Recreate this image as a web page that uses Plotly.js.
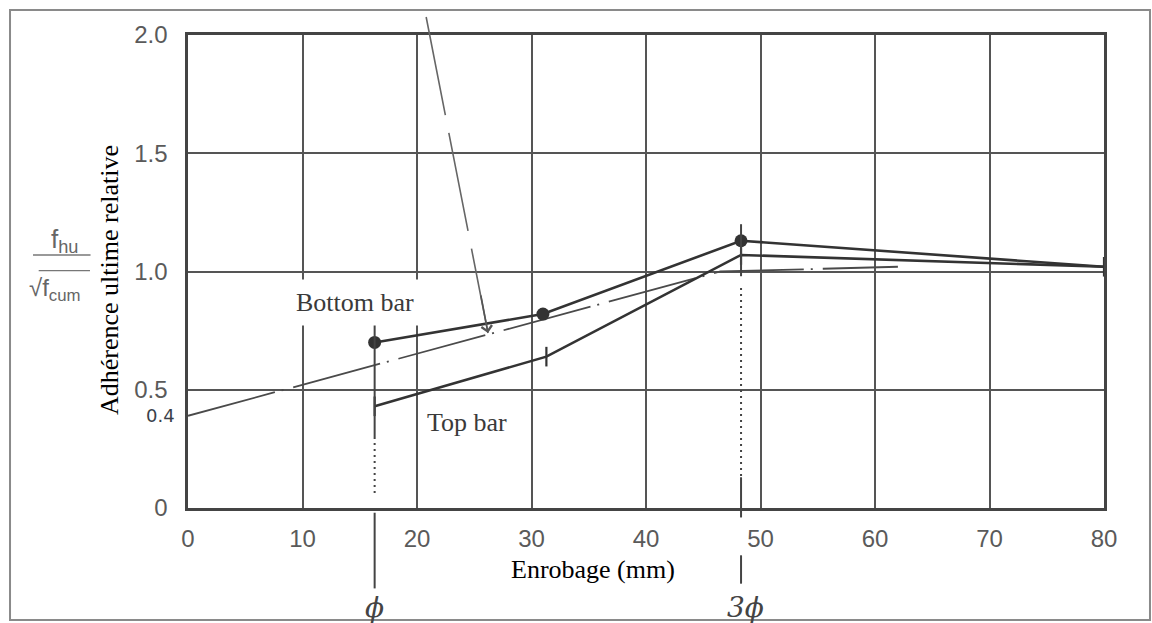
<!DOCTYPE html>
<html><head><meta charset="utf-8">
<script src="https://cdn.plot.ly/plotly-3.0.1.min.js"></script>
<style>html,body{margin:0;padding:0;background:#fff}#chart{width:1152px;height:623px}</style>
</head><body><div id="chart"></div>
<script>
// ---- data ----
const xTickVals = [0, 10, 20, 30, 40, 50, 60, 70, 80];
const xTickText = ['0', '10', '20', '30', '40', '50', '60', '70', '80'];
const yTickVals = [0, 0.5, 1.0, 1.5, 2.0];
const yTickText = ['0', '0.5', '1.0', '1.5', '2.0'];

const bottomBarX = [16.3, 31.0, 48.3, 80];
const bottomBarY = [0.70, 0.82, 1.13, 1.02];
const topBarX = [16.3, 31.3, 48.3, 80];
const topBarY = [0.43, 0.64, 1.07, 1.02];
const codeLineX = [0, 46.5, 62];
const codeLineY = [0.39, 1.00, 1.02];

const coverX = [16.3, 48.3];          // φ and 3φ
const coverLabels = ['ϕ', '3ϕ'];
const arrowTail = [20.8, 2.076];
const arrowTip = [26.2, 0.74];

const xRange = [0, 80];
const yRange = [0, 2];
const toPaperY = v => (v - yRange[0]) / (yRange[1] - yRange[0]);

const ink = '#333333';
const traces = [
  {x: codeLineX, y: codeLineY, type: 'scatter', mode: 'lines',
   line: {color: '#4a4a4a', width: 1.8, dash: '90px,7px,2px,10px'}, hoverinfo: 'skip'},
  {x: bottomBarX, y: bottomBarY, type: 'scatter', mode: 'lines',
   line: {color: ink, width: 2.6}, hoverinfo: 'skip'},
  {x: bottomBarX.slice(0, 3), y: bottomBarY.slice(0, 3), type: 'scatter', mode: 'markers',
   marker: {color: ink, size: 13, symbol: 'circle'}, hoverinfo: 'skip'},
  {x: topBarX, y: topBarY, type: 'scatter', mode: 'lines+markers', cliponaxis: false,
   line: {color: ink, width: 2.6},
   marker: {symbol: 'line-ns', size: 14, line: {color: ink, width: 2.2}}, hoverinfo: 'skip'}
];

// vertical cover reference lines (φ, 3φ): solid and dotted pieces
const coverSegments = [
  [[0.80, 0.30, 'solid'], [0.30, 0.05, '2px,4px'], [-0.02, -0.34, 'solid']],
  [[1.20, 0.98, 'solid'], [0.93, 0.13, '2px,4px'], [0.13, -0.04, 'solid'], [-0.20, -0.32, 'solid']]
];

const shapes = [
  // outer frame of the scanned figure
  {type: 'rect', xref: 'paper', yref: 'paper', x0: -0.1943, x1: 1.0502, y0: -0.2368, y1: 1.0529,
   line: {color: '#8a8a8a', width: 2}, layer: 'below'},
  // fraction bar and root overline
  {type: 'line', xref: 'paper', yref: 'paper', x0: -0.1692, x1: -0.1048, y0: 0.5349, y1: 0.5349,
   line: {color: '#777', width: 1.5}},
  {type: 'line', xref: 'paper', yref: 'paper', x0: -0.1630, x1: -0.1070, y0: 0.502, y1: 0.502,
   line: {color: '#777', width: 1.2}},
  // arrow shaft (dash-dot)
  {type: 'line', xref: 'x', yref: 'paper', x0: arrowTail[0], y0: toPaperY(arrowTail[1]),
   x1: arrowTip[0], y1: toPaperY(arrowTip[1]),
   line: {color: '#666', width: 1.6, dash: '100px,18px'}}
];
coverSegments.forEach((segs, i) => {
  segs.forEach(s => shapes.push({
    type: 'line', xref: 'x', yref: 'paper', x0: coverX[i], x1: coverX[i],
    y0: toPaperY(s[0]), y1: toPaperY(s[1]),
    line: {color: '#444', width: 2, dash: s[2]}
  }));
});

const serif = 'Liberation Serif, Times New Roman, serif';
const narrow = 'Liberation Sans Narrow, Liberation Sans, sans-serif';
const annotations = [
  {text: 'Bottom bar', x: 14.6, y: 0.87, xref: 'x', yref: 'y', xanchor: 'center', yanchor: 'middle', showarrow: false,
   font: {family: serif, size: 26, color: '#3a3a3a'}, bgcolor: '#ffffff', borderpad: 8},
  {text: 'Top bar', x: 24.4, y: 0.36, xref: 'x', yref: 'y', xanchor: 'center', yanchor: 'middle', showarrow: false,
   font: {family: serif, size: 26, color: '#3a3a3a'}},
  {text: '0.4', x: -0.012, y: codeLineY[0], xref: 'paper', yref: 'y', xanchor: 'right', yanchor: 'middle', showarrow: false,
   font: {family: 'DejaVu Sans, sans-serif', size: 18, color: '#3b3f4a'}},
  {text: 'Enrobage (mm)', x: 0.442, y: -0.131, xref: 'paper', yref: 'paper', xanchor: 'center', yanchor: 'middle', showarrow: false,
   font: {family: serif, size: 26, color: '#000'}, bgcolor: '#ffffff', borderpad: 6},
  {text: 'Adhérence ultime relative', x: -0.0862, y: 0.482, xref: 'paper', yref: 'paper',
   xanchor: 'center', yanchor: 'middle', textangle: -90, showarrow: false,
   font: {family: serif, size: 26, color: '#000'}, bgcolor: '#ffffff', borderpad: 4},
  {text: 'f<sub>hu</sub>', x: -0.135, y: 0.565, xref: 'paper', yref: 'paper', xanchor: 'center', yanchor: 'middle', showarrow: false,
   font: {family: narrow, size: 26, color: '#666'}},
  {text: '√f<sub>cum</sub>', x: -0.145, y: 0.462, xref: 'paper', yref: 'paper', xanchor: 'center', yanchor: 'middle', showarrow: false,
   font: {family: narrow, size: 24, color: '#666'}},
  // arrow head
  {x: arrowTip[0], y: arrowTip[1], xref: 'x', yref: 'y', ax: -7.4, ay: -39, text: '',
   showarrow: true, arrowhead: 4, arrowsize: 1.3, arrowwidth: 1.6, arrowcolor: '#555'}
];
coverX.forEach((cx, i) => annotations.push({
  text: coverLabels[i], x: cx + (i === 1 ? 0.4 : 0), y: -0.21, xref: 'x', yref: 'paper',
  xanchor: 'center', yanchor: 'middle', showarrow: false,
  font: {family: 'DejaVu Serif, serif', size: 28, color: '#444', style: 'italic'}
}));

const axisCommon = {
  showgrid: true, gridcolor: '#555', gridwidth: 2,
  showline: true, mirror: true, linecolor: '#444', linewidth: 2.6,
  zeroline: false, ticks: '', fixedrange: true,
  tickfont: {family: 'Liberation Sans, Arial, sans-serif', size: 24, color: '#5a5a5a'}
};

const layout = {
  width: 1152, height: 623,
  margin: {l: 188, r: 48, t: 35, b: 115, pad: 0},
  paper_bgcolor: '#fff', plot_bgcolor: '#fff',
  showlegend: false,
  xaxis: Object.assign({}, axisCommon, {range: xRange, tickvals: xTickVals, ticktext: xTickText, ticklabelstandoff: 8}),
  yaxis: Object.assign({}, axisCommon, {range: yRange, tickvals: yTickVals, ticktext: yTickText, ticklabelstandoff: 13}),
  shapes: shapes,
  annotations: annotations
};

Plotly.newPlot('chart', traces, layout, {staticPlot: true, displayModeBar: false});
</script>
</body></html>
